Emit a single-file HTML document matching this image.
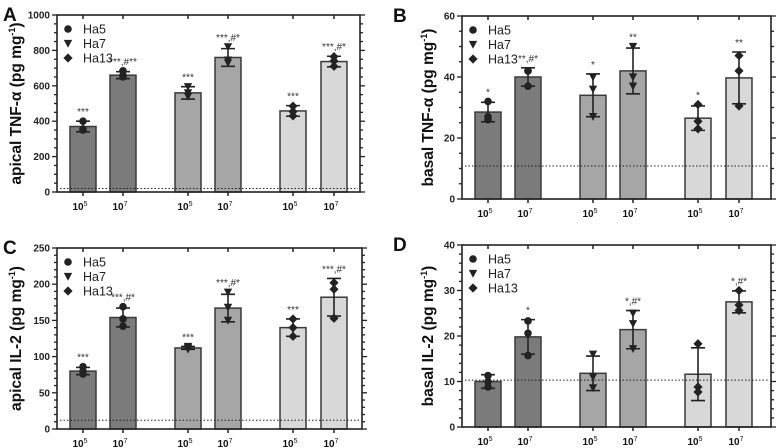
<!DOCTYPE html>
<html><head><meta charset="utf-8"><style>
html,body{margin:0;padding:0;background:#fff}
svg{display:block;font-family:"Liberation Sans",sans-serif}
</style></head><body>
<svg id="chart" width="780" height="448" viewBox="0 0 780 448"></svg>
<script>
const categories=["10^5","10^7","10^5","10^7","10^5","10^7"];
const legendLabels=["Ha5","Ha7","Ha13"];
const aMeans=[370,660,560,760,458,737];
const aErr=[30,20,35,50,30,30];
const aPoints=[[400,355,350],[685,660,650],[595,560,540],[820,745,730],[485,455,430],[765,740,710]];
const aSig=["***","***,#**","***","***,#*","***","***,#*"];
const bMeans=[28.5,40,34,42,26.5,39.7];
const bErr=[3.2,3,7,7.5,4,8.5];
const bPoints=[[32,27,26],[42,42,37],[40,36,27],[50,40,37],[31,25.5,23],[47,42,30.5]];
const bSig=["*","**,#*","*","**","*","**"];
const cMeans=[80,154,112,167,140,182];
const cErr=[5,13,2,19,12,26];
const cPoints=[[86,80,76],[169,152,142],[114,112,110],[189,168,150],[152,140,128],[202,193,153]];
const cSig=["***","***,#*","***","***,#*","***","***,#*"];
const dMeans=[10,19.8,11.8,21.4,11.6,27.5];
const dErr=[1.5,3.8,3.8,4.2,5.8,2.4];
const dPoints=[[11.3,10,8.8],[23.3,20.6,15.7],[16,11,8.6],[25,22.7,17.2],[18.3,8.8,7.7],[30,26.8,25.6]];
const dSig=["","*","","*,#*","","*,#*"];

const svg=document.getElementById('chart');
const NS="http://www.w3.org/2000/svg";
function mk(tag,attrs,parent){const e=document.createElementNS(NS,tag);for(const k in attrs)e.setAttribute(k,attrs[k]);(parent||svg).appendChild(e);return e;}
const fills=["#7b7b7b","#a6a6a6","#d8d8d8"];

function marker(g,shape,x,y){
  let m;
  if(shape===0)m=mk('circle',{cx:x,cy:y,r:3.8,fill:'#222'},g);
  else if(shape===1)m=mk('polygon',{points:`${x-4.2},${y-3.6} ${x+4.2},${y-3.6} ${x},${y+4.2}`,fill:'#222'},g);
  else m=mk('polygon',{points:`${x},${y-4.6} ${x+4.6},${y} ${x},${y+4.6} ${x-4.6},${y}`,fill:'#222'},g);
  
  
}

function panel(p){
  const g=mk('g',{});
  
  
  const y=v=>p.y0-(v/p.max)*(p.y0-p.yt);
  const offs=[0,40,105,145,210,251];
  const x=i=>p.x0+26+offs[i];
  const lt=mk('text',{x:p.lx,y:p.yt+6,'font-size':19,'font-weight':'bold',fill:'#111'},g);lt.textContent=p.letter;
  
  for(let i=0;i<6;i++){
    const gi=Math.floor(i/2);
    const b=mk('rect',{x:x(i)-13,y:y(p.means[i]),width:26,height:p.y0-y(p.means[i]),fill:fills[gi],stroke:'#3a3a3a','stroke-width':1.5},g);
    
  }
  const dl=mk('line',{x1:p.x0+3,x2:p.x1-2,y1:y(p.dot),y2:y(p.dot),stroke:'#222','stroke-width':1,'stroke-dasharray':'1.5,2'},g);
  
  for(let i=0;i<6;i++){
    const gi=Math.floor(i/2);
    const hi=y(p.means[i]+p.err[i]),lo=y(p.means[i]-p.err[i]);
    const eb=mk('path',{d:`M${x(i)},${hi}V${lo}M${x(i)-7},${hi}H${x(i)+7}M${x(i)-7},${lo}H${x(i)+7}`,stroke:'#222','stroke-width':1.6,fill:'none'},g);
    
    p.pts[i].forEach(v=>marker(g,gi,x(i),y(v)));
    if(p.sig[i]){
      const top=Math.min(hi,...p.pts[i].map(y));
      const t=mk('text',{x:x(i),y:top-6,'font-size':10,'text-anchor':'middle',fill:'#333'},g);
      t.textContent=p.sig[i];
      
    }
    const tl=mk('text',{x:x(i)-3,y:p.y0+18,'font-size':10,'font-weight':'bold','text-anchor':'middle',fill:'#111'},g);
    tl.textContent='10';
    const sup=mk('tspan',{dy:-4,'font-size':7,'font-weight':'normal'},tl);sup.textContent=categories[i].split('^')[1];
    
    mk('line',{x1:x(i),x2:x(i),y1:p.y0,y2:p.y0+4,stroke:'#222','stroke-width':1.5},g);
    mk('line',{x1:x(i),x2:x(i),y1:p.yt,y2:p.yt+4,stroke:'#222','stroke-width':1.5},g);
  }
  const ax=mk('rect',{x:p.x0,y:p.yt,width:p.x1-p.x0,height:p.y0-p.yt,fill:'none',stroke:'#222','stroke-width':1.6},g);
  
  for(let v=0;v<=p.max+1e-9;v+=p.minor){
    const major=Math.abs(v/p.major-Math.round(v/p.major))<1e-6;
    const L=major?5:3;
    mk('line',{x1:p.x0-L,x2:p.x0,y1:y(v),y2:y(v),stroke:'#222','stroke-width':1.3},g);
    mk('line',{x1:p.x1,x2:p.x1+L,y1:y(v),y2:y(v),stroke:'#222','stroke-width':1.3},g);
    if(major){
      const t=mk('text',{x:p.x0-7,y:y(v)+3.5,'font-size':10,'font-weight':'bold','text-anchor':'end',fill:'#222'},g);
      t.textContent=Math.round(v);
      
    }
  }
  const yl=mk('text',{x:0,y:0,'font-size':15.5,'font-weight':'bold','text-anchor':'middle',fill:'#111',transform:`translate(${p.ylx},${(p.y0+p.yt)/2}) rotate(-90)`},g);
  yl.textContent=p.ylabel;
  const s1=mk('tspan',{dy:-6,'font-size':9},yl);s1.textContent='-1';
  const s2=mk('tspan',{dy:6},yl);s2.textContent=')';
  
  legendLabels.forEach((l,k)=>{
    const ly=p.yt+14+k*14.5;
    marker(g,k,p.x0+11,ly);
    const t=mk('text',{x:p.x0+26,y:ly+4.5,'font-size':12.5,fill:'#222'},g);t.textContent=l;
    
  });
}
panel({name:'panel-a',letter:'A',lx:3,x0:57,x1:360,yt:15,y0:192,max:1000,major:200,minor:50,dot:20,ylx:21,ylabel:'apical TNF-α (pg mg',means:aMeans,err:aErr,pts:aPoints,sig:aSig});
panel({name:'panel-b',letter:'B',lx:393,x0:462,x1:771,yt:16,y0:199,max:60,major:20,minor:5,dot:10.8,ylx:433,ylabel:'basal TNF-α (pg mg',means:bMeans,err:bErr,pts:bPoints,sig:bSig});
panel({name:'panel-c',letter:'C',lx:3,x0:57,x1:362,yt:248,y0:429,max:250,major:50,minor:10,dot:12,ylx:21,ylabel:'apical IL-2 (pg mg',means:cMeans,err:cErr,pts:cPoints,sig:cSig});
panel({name:'panel-d',letter:'D',lx:393,x0:462,x1:771,yt:245,y0:427,max:40,major:10,minor:2,dot:10.3,ylx:433,ylabel:'basal IL-2 (pg mg',means:dMeans,err:dErr,pts:dPoints,sig:dSig});
</script>
</body></html>
